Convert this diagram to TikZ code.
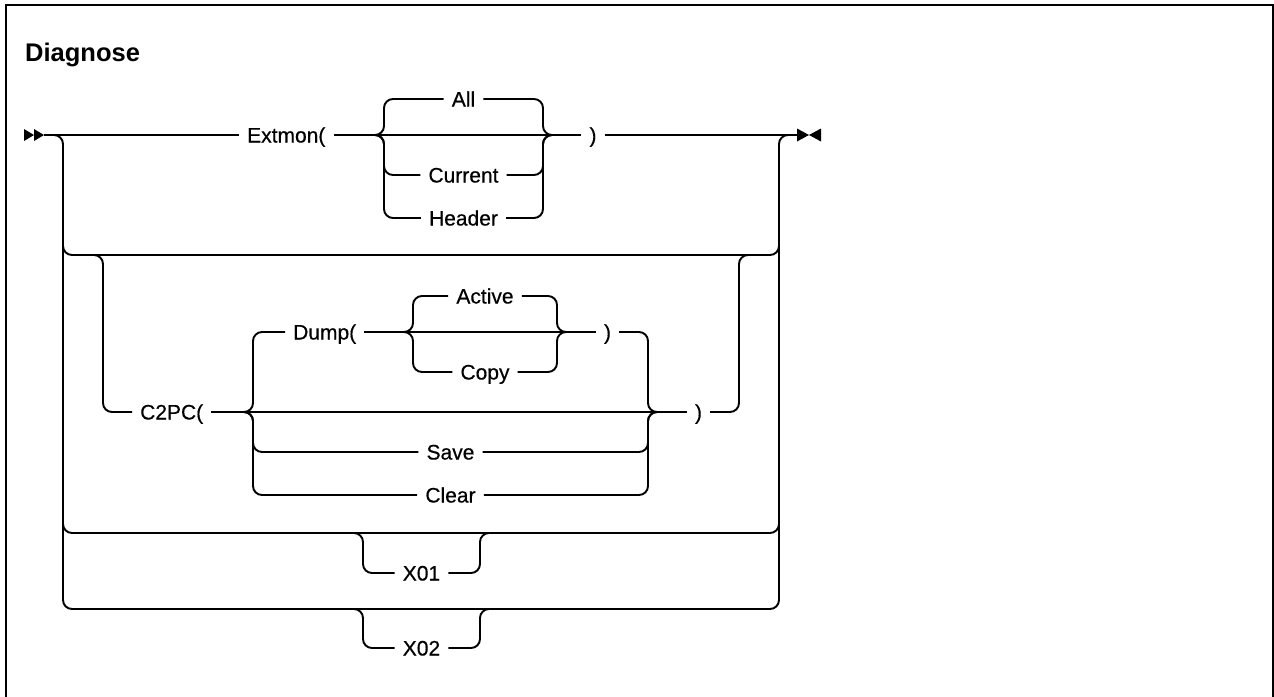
\documentclass[tikz,border=0pt]{standalone}
\usepackage{fontspec}
\setmainfont{Liberation Sans}
\newfontfamily\lblfont[FakeBold=0.45]{Liberation Sans}
\begin{document}
\begin{tikzpicture}[x=1pt,y=-1pt,
  rr/.style={line width=1.9pt, rounded corners=9pt},
  ln/.style={line width=1.9pt},
  lbl/.style={font=\lblfont\fontsize{21}{21}\selectfont, text height=15pt, text depth=0pt, inner ysep=0pt, inner xsep=8pt},
  tipmark/.style={fill=black}]
\useasboundingbox (0,0) rectangle (1274,696);
% frame
\draw[line width=2.2pt] (6,698) -- (6,5) -- (1272.6,5) -- (1272.6,698);
\node[anchor=base west, font=\fontsize{25.5}{26}\selectfont\bfseries, inner sep=0pt] (title) at (25,61) {Diagnose};

% start and end markers
\coordinate (start) at (44,135);
\coordinate (end) at (797,135);
\fill[tipmark] (24,129) -- (34,135) -- (24,141) -- cycle;
\fill[tipmark] (34,129) -- (start) -- (34,141) -- cycle;
\fill[tipmark] (end) -- (797,128.5) -- (809,135) -- (797,141.5) -- cycle;
\fill[tipmark] (821,128.5) -- (809,135) -- (821,141.5) -- cycle;

% labels
\node[lbl, anchor=west] (extmon) at (239,135) {Extmon(};
\node[lbl] (rp0) at (593,135) {)};
\node[lbl] (all) at (463.5,99) {All};
\node[lbl] (current) at (463.5,175) {Current};
\node[lbl] (header) at (463.5,218) {Header};

\node[lbl, anchor=west] (c2pc) at (132,412) {C2PC(};
\node[lbl] (rp2) at (698.5,412) {)};
\node[lbl, anchor=west] (dump) at (285,332) {Dump(};
\node[lbl] (rp1) at (607.5,332) {)};
\node[lbl] (active) at (485,296) {Active};
\node[lbl] (copy) at (485,372) {Copy};
\node[lbl] (save) at (450.5,452) {Save};
\node[lbl] (clear) at (450.5,495) {Clear};

\node[lbl] (x01) at (421.5,573) {X01};
\node[lbl] (x02) at (421.5,648) {X02};

% main line
\draw[ln] (start) -- (extmon);
\draw[ln] (extmon) -- (rp0);
\draw[ln] (rp0) -- (end);

% choice All / Current / Header
\draw[rr] (368,135) -- (384,135) -- (384,99) -- (all) -- (543,99) -- (543,135) -- (559,135);
\draw[rr] (368,135) -- (384,135) -- (384,175) -- (current) -- (543,175) -- (543,135) -- (559,135);
\draw[rr] (368,135) -- (384,135) -- (384,218) -- (header) -- (543,218) -- (543,135) -- (559,135);

% outer stack
\draw[rr] (48,135) -- (63,135) -- (63,609) -- (779,609) -- (779,135) -- (794,135);
\draw[rr] (63,238) -- (63,255) -- (779,255) -- (779,238);
\draw[rr] (63,516) -- (63,533) -- (779,533) -- (779,516);

% C2PC branch
\draw[rr] (88,255) -- (103,255) -- (103,412) -- (c2pc);
\draw[ln] (c2pc) -- (rp2);
\draw[rr] (rp2) -- (739,412) -- (739,255) -- (754,255);

% choice Dump / - / Save / Clear
\draw[rr] (238,412) -- (253,412) -- (253,332) -- (dump);
\draw[ln] (dump) -- (rp1);
\draw[rr] (rp1) -- (648,332) -- (648,412) -- (663,412);
\draw[rr] (238,412) -- (253,412) -- (253,452) -- (save) -- (648,452) -- (648,412) -- (663,412);
\draw[rr] (238,412) -- (253,412) -- (253,495) -- (clear) -- (648,495) -- (648,412) -- (663,412);

% choice Active / Copy
\draw[rr] (398,332) -- (413,332) -- (413,296) -- (active) -- (557,296) -- (557,332) -- (572,332);
\draw[rr] (398,332) -- (413,332) -- (413,372) -- (copy) -- (557,372) -- (557,332) -- (572,332);

% X01, X02
\draw[rr] (340,533) -- (363,533) -- (363,573) -- (x01) -- (480,573) -- (480,533) -- (503,533);
\draw[rr] (340,609) -- (363,609) -- (363,648) -- (x02) -- (480,648) -- (480,609) -- (503,609);
\end{tikzpicture}
\end{document}
